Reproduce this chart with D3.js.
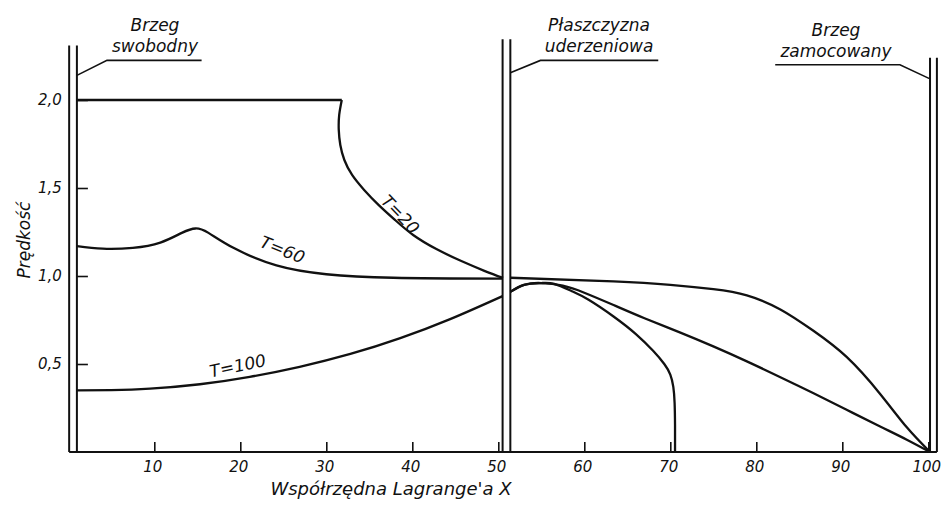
<!DOCTYPE html>
<html>
<head>
<meta charset="utf-8">
<script src="https://cdn.jsdelivr.net/npm/d3@7"></script>
<style>
  body { margin: 0; background: #fff; }
  text { font-family: "DejaVu Sans", sans-serif; font-style: italic; fill: #111; }
</style>
</head>
<body>
<div id="chart"></div>
<script>
// data (X = Lagrange coordinate, V = velocity)
const xTicks = [10, 20, 30, 40, 50, 60, 70, 80, 90, 100];
const yTicks = [0.5, 1.0, 1.5, 2.0];
const yTickLabels = ["0,5", "1,0", "1,5", "2,0"];

// left part, T=20 : flat plateau then a steep drop
const t20Top = [[1, 2.0], [31.8, 2.0]];
const t20Drop = [[31.8, 2.0], [31.5, 1.915], [31.45, 1.83], [31.63, 1.744], [32.1, 1.659], [33, 1.574],
  [34.4, 1.489], [36.1, 1.403], [38, 1.318], [40.1, 1.233], [42.8, 1.153], [45.7, 1.085], [48.45, 1.028],
  [50.55, 0.989]];
const t60Left = [[1, 1.17], [4, 1.155], [7.5, 1.16], [10.7, 1.19], [13.2, 1.245], [14.8, 1.27], [16.3, 1.245],
  [19.2, 1.16], [24.2, 1.06], [30, 1.01], [37.8, 0.99], [50.5, 0.985]];
const t100Left = [[1, 0.35], [5, 0.352], [9.5, 0.36], [15.3, 0.385], [21.1, 0.427], [26.9, 0.484],
  [32.8, 0.557], [38.6, 0.647], [44.4, 0.755], [50.5, 0.886]];

// right part (behind the impact plane)
const rightFlat = [[51.4, 0.99], [63.4, 0.97], [70, 0.95], [75, 0.925], [78.9, 0.89], [82.8, 0.81], [86.6, 0.69],
  [90.5, 0.54], [94.4, 0.33], [97.5, 0.14], [100.2, 0.0]];
const rightMid = [[51.4, 0.91], [53, 0.95], [55, 0.96], [57.5, 0.945], [60, 0.905], [63.4, 0.835], [67, 0.76],
  [71.1, 0.68], [75, 0.6], [78.9, 0.515], [82.8, 0.425], [86.6, 0.335], [90.5, 0.24], [94.4, 0.145],
  [97.5, 0.07], [100.2, 0.0]];
const rightFront = [[51.4, 0.91], [53, 0.95], [55, 0.96], [56.5, 0.955], [58.5, 0.915], [60.5, 0.865],
  [63.4, 0.77], [66, 0.67], [68, 0.575], [69.3, 0.5], [70, 0.44], [70.35, 0.37], [70.5, 0.28],
  [70.55, 0.15], [70.55, 0.0]];

// double boundary lines: [x1, x2, top]
const boundaries = [[0.1, 1, 2.31], [50.5, 51.4, 2.345], [100.2, 101, 2.24]];

const w = 941, h = 505;
const svg = d3.select("#chart").append("svg").attr("width", w).attr("height", h);

const x = d3.scaleLinear().domain([0, 100]).range([68.3, 928.3]);
const y = d3.scaleLinear().domain([0, 2]).range([452, 100]);

// bottom axis
svg.append("g")
  .attr("transform", "translate(0," + y(0) + ")")
  .call(d3.axisBottom(x).tickValues(xTicks).tickSizeInner(-10).tickSizeOuter(0).tickPadding(9))
  .call(g => g.select(".domain").remove())
  .call(g => g.selectAll(".tick line").attr("stroke", "#111").attr("stroke-width", 1.6))
  .call(g => g.selectAll(".tick text").attr("dx", "-2").style("font-size", "15px")
    .style("font-family", "DejaVu Sans").style("font-style", "italic").attr("fill", "#111"));

svg.append("line")
  .attr("x1", x(0.1)).attr("x2", x(101)).attr("y1", y(0)).attr("y2", y(0))
  .attr("stroke", "#111").attr("stroke-width", 2.2);

// left axis ticks + labels
svg.append("g")
  .attr("transform", "translate(" + x(1) + ",0)")
  .call(d3.axisLeft(y).tickValues(yTicks).tickFormat((d, i) => yTickLabels[i])
    .tickSizeInner(-11).tickSizeOuter(0).tickPadding(15))
  .call(g => g.select(".domain").remove())
  .call(g => g.selectAll(".tick line").attr("stroke", "#111").attr("stroke-width", 1.6))
  .call(g => g.selectAll(".tick text").style("font-size", "15px")
    .style("font-family", "DejaVu Sans").style("font-style", "italic").attr("fill", "#111"));

// double vertical lines
boundaries.forEach(b => {
  [b[0], b[1]].forEach(v => {
    svg.append("line")
      .attr("x1", x(v)).attr("x2", x(v)).attr("y1", y(b[2])).attr("y2", y(0))
      .attr("stroke", "#111").attr("stroke-width", 2);
  });
});

// curves - natural splines give the smooth hand drawn look
const smooth = d3.line().x(d => x(d[0])).y(d => y(d[1])).curve(d3.curveNatural);
const straight = d3.line().x(d => x(d[0])).y(d => y(d[1]));

const curves = svg.append("g").attr("fill", "none").attr("stroke", "#111").attr("stroke-width", 2.3);
curves.append("path").attr("d", straight(t20Top));
[t20Drop, t60Left, t100Left, rightFlat, rightMid, rightFront].forEach(c => {
  curves.append("path").attr("d", smooth(c));
});

// curve labels
const curveLabels = [
  {t: "T=20", X: 38.6, V: 1.35, rot: 46},
  {t: "T=60", X: 24.9, V: 1.15, rot: 22},
  {t: "T=100", X: 19.7, V: 0.49, rot: -12}
];
curveLabels.forEach(l => {
  svg.append("text")
    .attr("transform", "translate(" + x(l.X) + "," + y(l.V) + ") rotate(" + l.rot + ")")
    .attr("text-anchor", "middle").attr("dy", "0.35em")
    .style("font-size", "17px").text(l.t);
});

// boundary annotations (leader lines + two line captions)
const notes = [
  {lines: ["Brzeg", "swobodny"], cx: 155, path: [[1, 2.14], [4.5, 2.225], [15.5, 2.225]]},
  {lines: ["Płaszczyzna", "uderzeniowa"], cx: 599, path: [[51.4, 2.155], [54.9, 2.225], [68.6, 2.225]]},
  {lines: ["Brzeg", "zamocowany"], cx: 836, path: [[82.2, 2.2], [96.7, 2.2], [100.2, 2.12]]}
];
notes.forEach(n => {
  svg.append("path").attr("d", straight(n.path))
    .attr("fill", "none").attr("stroke", "#111").attr("stroke-width", 1.6);
  const base = n.path[1][1];
  svg.append("text").attr("x", n.cx).attr("y", y(base) - 29)
    .attr("text-anchor", "middle").style("font-size", "17px").text(n.lines[0]);
  svg.append("text").attr("x", n.cx).attr("y", y(base) - 8)
    .attr("text-anchor", "middle").style("font-size", "17px").text(n.lines[1]);
});

// axis titles
svg.append("text")
  .attr("x", 391).attr("y", 495)
  .attr("text-anchor", "middle").style("font-size", "18px")
  .text("Współrzędna Lagrange'a  X");

svg.append("text")
  .attr("transform", "translate(30,240) rotate(-90)")
  .attr("text-anchor", "middle").style("font-size", "17px")
  .text("Prędkość");
</script>
</body>
</html>
